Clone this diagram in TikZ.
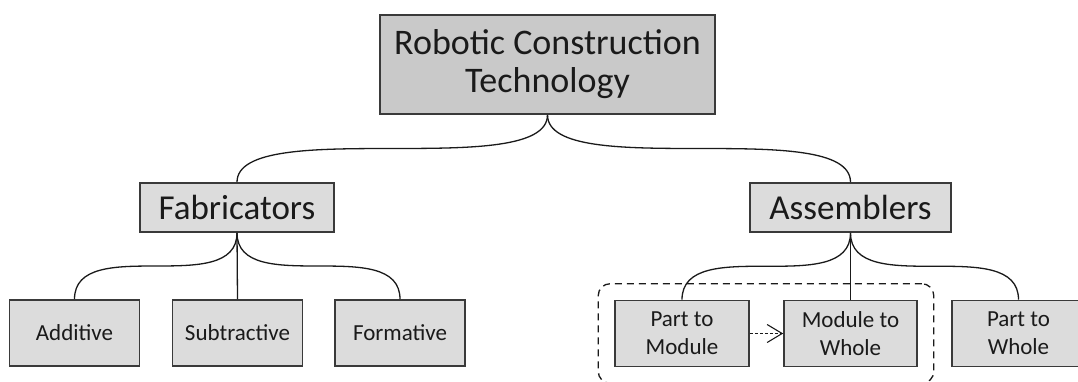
\documentclass[tikz,border=0pt]{standalone}
\usepackage{fontspec}
\setmainfont{Carlito}
\usetikzlibrary{arrows.meta, positioning, fit}
\definecolor{BoxLine}{HTML}{3A3A3A}
\definecolor{RootFill}{HTML}{C9C9C9}
\definecolor{BoxFill}{HTML}{DCDCDC}
\definecolor{InkBlack}{HTML}{1A1A1A}

\begin{document}
\begin{tikzpicture}[
    x=1pt, y=1pt,
    box/.style={draw=BoxLine, line width=1.6pt, fill=BoxFill, text=InkBlack,
        align=center, inner sep=0pt},
    rootbox/.style={box, fill=RootFill, minimum width=335pt, minimum height=99pt,
        font=\fontsize{36}{38}\selectfont},
    catbox/.style={box, minimum height=49pt, font=\fontsize{35}{40}\selectfont},
    leafbox/.style={box, minimum width=130pt, minimum height=66pt,
        font=\fontsize{23}{28}\selectfont},
    link/.style={line width=1.3pt, InkBlack},
    group/.style={draw=InkBlack, line width=1.3pt, dash pattern=on 7pt off 5pt,
        rounded corners=12pt},
    seqflow/.style={line width=1.1pt, InkBlack, dash pattern=on 3pt off 2pt,
        -{Straight Barb[length=15pt, width=18pt, line width=1.1pt]}},
]
\useasboundingbox (0,0) rectangle (1078,-381);

% ================= root =================
\node[rootbox] (root) at (547.5,-64.5) {Robotic Construction\\Technology};

% ================= categories =================
\node[catbox, minimum width=194pt] (fab) at (237,-207.5) {Fabricators};
\node[catbox, minimum width=201pt] (asm) at (850.5,-207.5) {Assemblers};

\draw[link] (root.south) .. controls +(0,-67) and +(0,67) .. (fab.north);
\draw[link] (root.south) .. controls +(0,-67) and +(0,67) .. (asm.north);

% ================= fabricators =================
\node[leafbox] (add)  at (74.5,-333)  {Additive};
\node[leafbox] (sub)  at (237.5,-333) {Subtractive};
\node[leafbox] (form) at (400,-333)   {Formative};

\draw[link] (fab.south) .. controls +(0,-66) and +(0,66) .. (add.north);
\draw[link] (fab.south) -- (sub.north);
\draw[link] (fab.south) .. controls +(0,-66) and +(0,66) .. (form.north);

% ================= assemblers =================
\node[leafbox, minimum width=134pt] (ptm) at (682,-333.5)    {Part to\\Module};
\node[leafbox, minimum width=133pt] (mtw) at (850.5,-333.5)  {Module to\\Whole};
\node[leafbox, minimum width=133pt] (ptw) at (1018.5,-333.5) {Part to\\Whole};

\draw[link] (asm.south) .. controls +(0,-67) and +(0,67) .. (ptm.north);
\draw[link] (asm.south) -- (mtw.north);
\draw[link] (asm.south) .. controls +(0,-67) and +(0,67) .. (ptw.north);

% grouped modular assembly
\node[group, fit=(ptm)(mtw), inner sep=16pt] (modgrp) {};
\draw[seqflow] (ptm.east) -- (mtw.west);

\end{tikzpicture}
\end{document}
